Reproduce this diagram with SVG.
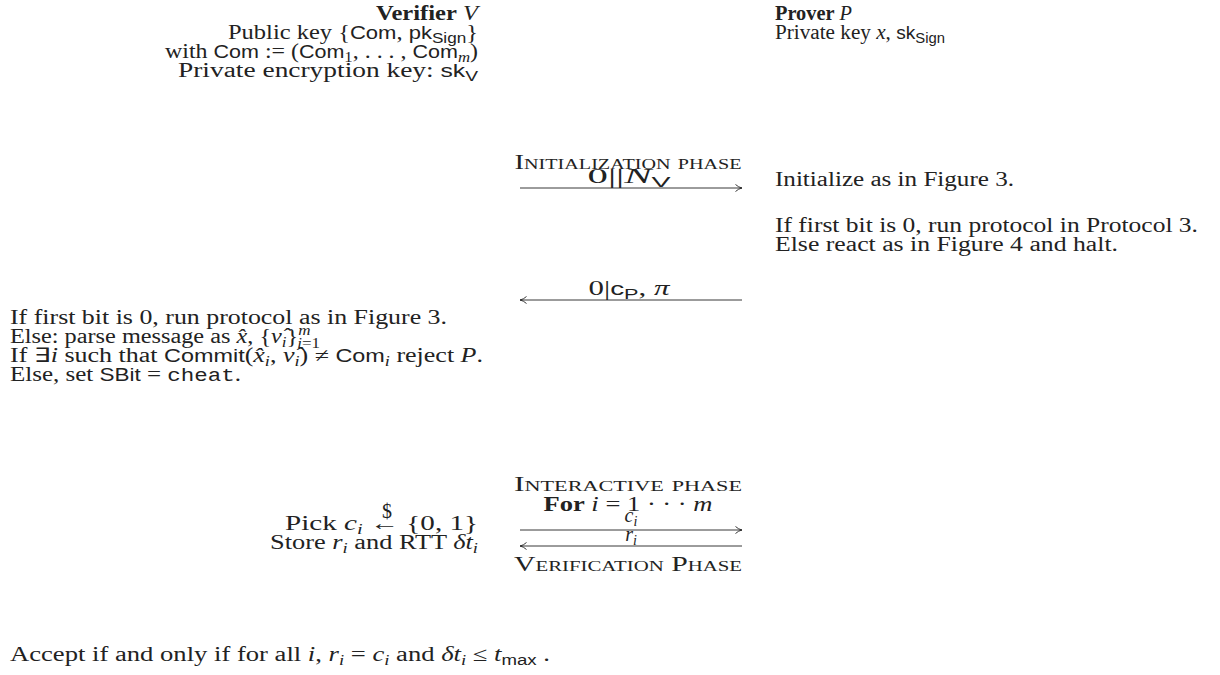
<svg xmlns="http://www.w3.org/2000/svg" width="1220" height="675" viewBox="0 0 1220 675">
<style>
.t{font-family:"Liberation Serif",serif;font-size:20px;fill:#222}
.it{font-style:italic}
.b{font-weight:bold}
.sf{font-family:"Liberation Sans",sans-serif;font-size:18px}
.sub{font-size:14px}
.sc{font-variant:small-caps}
.tt{font-family:"Liberation Mono",monospace;font-size:18px}
.arr{stroke:#222;stroke-width:0.9;fill:none}
</style>
<defs>
<marker id="ah" viewBox="0 0 10 10" refX="9.5" refY="5" markerWidth="10" markerHeight="10" markerUnits="userSpaceOnUse" orient="auto">
<path d="M3,1.5 Q6,4.3 9.5,5 Q6,5.7 3,8.5" fill="none" stroke="#222" stroke-width="0.9"/>
</marker>
</defs>
<rect width="1220" height="675" fill="#fff"/>

<g id="verifier">
<text class="t" x="478" y="20" text-anchor="end" textLength="102" lengthAdjust="spacingAndGlyphs"><tspan class="b">Verifier</tspan> <tspan class="it">V</tspan></text>
<text class="t" x="478" y="39" text-anchor="end" textLength="250" lengthAdjust="spacingAndGlyphs">Public key {<tspan class="sf">Com</tspan>, <tspan class="sf">pk</tspan><tspan class="sf sub" dy="4">Sign</tspan><tspan dy="-4">}</tspan></text>
<text class="t" x="478" y="58" text-anchor="end" textLength="313" lengthAdjust="spacingAndGlyphs">with <tspan class="sf">Com</tspan> := (<tspan class="sf">Com</tspan><tspan class="sub" dy="4">1</tspan><tspan dy="-4">, . . . , </tspan><tspan class="sf">Com</tspan><tspan class="sub it" dy="4">m</tspan><tspan dy="-4">)</tspan></text>
<text class="t" x="478" y="77" text-anchor="end" textLength="300" lengthAdjust="spacingAndGlyphs">Private encryption key: <tspan class="sf">sk</tspan><tspan class="sf sub" dy="4">V</tspan></text>
</g>

<g id="prover">
<text class="t" x="775" y="20" textLength="77" lengthAdjust="spacingAndGlyphs"><tspan class="b">Prover</tspan> <tspan class="it">P</tspan></text>
<text class="t" x="775" y="39" textLength="170" lengthAdjust="spacingAndGlyphs">Private key <tspan class="it">x</tspan>, <tspan class="sf">sk</tspan><tspan class="sf sub" dy="4">Sign</tspan></text>
</g>

<g id="init-phase">
<text class="t sc" x="628" y="169" text-anchor="middle" textLength="227" lengthAdjust="spacingAndGlyphs">Initialization phase</text>
</g>

<g id="prover-init">
<text class="t" x="775" y="186" textLength="239" lengthAdjust="spacingAndGlyphs">Initialize as in Figure 3.</text>
<text class="t" x="775" y="232" textLength="423" lengthAdjust="spacingAndGlyphs">If first bit is 0, run protocol in Protocol 3.</text>
<text class="t" x="775" y="251" textLength="343" lengthAdjust="spacingAndGlyphs">Else react as in Figure 4 and halt.</text>
</g>

<g id="verifier-check">
<text class="t" x="10" y="324" textLength="437" lengthAdjust="spacingAndGlyphs">If first bit is 0, run protocol as in Figure 3.</text>
<text class="t" x="10" y="343" textLength="310" lengthAdjust="spacingAndGlyphs">Else: parse message as <tspan class="it">x̂</tspan>, {<tspan class="it">ν̂</tspan><tspan class="sub it" dy="4">i</tspan><tspan dy="-4">}</tspan><tspan class="sub it" dy="-8">m</tspan><tspan class="sub" dx="-11" dy="13"><tspan class="it">i</tspan>=1</tspan></text>
<text class="t" x="10" y="362" textLength="473" lengthAdjust="spacingAndGlyphs">If ∃<tspan class="it">i</tspan> such that <tspan class="sf">Commit</tspan>(<tspan class="it">x̂</tspan><tspan class="sub it" dy="4">i</tspan><tspan dy="-4">, </tspan><tspan class="it">ν̂</tspan><tspan class="sub it" dy="4">i</tspan><tspan dy="-4">) ≠ </tspan><tspan class="sf">Com</tspan><tspan class="sub it" dy="4">i</tspan><tspan dy="-4"> reject </tspan><tspan class="it">P</tspan>.</text>
<text class="t" x="10" y="381" textLength="231" lengthAdjust="spacingAndGlyphs">Else, set <tspan class="sf">SBit</tspan> = <tspan class="tt">cheat</tspan>.</text>
</g>

<g id="interactive-phase">
<text class="t sc" x="628" y="491" text-anchor="middle" textLength="228" lengthAdjust="spacingAndGlyphs">Interactive phase</text>
<text class="t" x="628" y="511" text-anchor="middle" textLength="169" lengthAdjust="spacingAndGlyphs"><tspan class="b">For</tspan> <tspan class="it">i</tspan> = 1 · · · <tspan class="it">m</tspan></text>
</g>

<g id="verifier-round">
<text class="t" x="478" y="530" text-anchor="end" textLength="193" lengthAdjust="spacingAndGlyphs">Pick <tspan class="it">c</tspan><tspan class="sub it" dy="4">i</tspan><tspan dy="-4"> ←  {0, 1}</tspan></text>
<text class="t" x="387" y="518" text-anchor="middle" font-size="12">$</text>
<text class="t" x="478" y="549" text-anchor="end" textLength="208" lengthAdjust="spacingAndGlyphs">Store <tspan class="it">r</tspan><tspan class="sub it" dy="4">i</tspan><tspan dy="-4"> and RTT </tspan><tspan class="it">δt</tspan><tspan class="sub it" dy="4">i</tspan></text>
</g>

<g id="verification-phase">
<text class="t sc" x="628" y="571" text-anchor="middle" textLength="228" lengthAdjust="spacingAndGlyphs">Verification Phase</text>
</g>

<g id="accept">
<text class="t" x="10" y="661" textLength="540" lengthAdjust="spacingAndGlyphs">Accept if and only if for all <tspan class="it">i</tspan>, <tspan class="it">r</tspan><tspan class="sub it" dy="4">i</tspan><tspan dy="-4"> = </tspan><tspan class="it">c</tspan><tspan class="sub it" dy="4">i</tspan><tspan dy="-4"> and </tspan><tspan class="it">δt</tspan><tspan class="sub it" dy="4">i</tspan><tspan dy="-4"> ≤ </tspan><tspan class="it">t</tspan><tspan class="sf sub" dy="4">max</tspan><tspan dy="-4"> .</tspan></text>
</g>

<g id="connectors">
<line class="arr" x1="520" y1="188" x2="742" y2="188" marker-end="url(#ah)"/>
<text class="t" x="629" y="183" text-anchor="middle" textLength="83" lengthAdjust="spacingAndGlyphs">0||<tspan class="it">N</tspan><tspan class="sf sub" dy="4">V</tspan></text>
<line class="arr" x1="742" y1="300" x2="520" y2="300" marker-end="url(#ah)"/>
<text class="t" x="629" y="295" text-anchor="middle" textLength="81" lengthAdjust="spacingAndGlyphs">0|<tspan class="sf">c</tspan><tspan class="sf sub" dy="4">P</tspan><tspan dy="-4">, </tspan><tspan class="it">π</tspan></text>
<line class="arr" x1="520" y1="530" x2="742" y2="530" marker-end="url(#ah)"/>
<text class="t" x="631" y="522" text-anchor="middle"><tspan class="it">c</tspan><tspan class="sub it" dy="4">i</tspan></text>
<line class="arr" x1="742" y1="546" x2="520" y2="546" marker-end="url(#ah)"/>
<text class="t" x="631" y="541" text-anchor="middle"><tspan class="it">r</tspan><tspan class="sub it" dy="4">i</tspan></text>
</g>
</svg>
